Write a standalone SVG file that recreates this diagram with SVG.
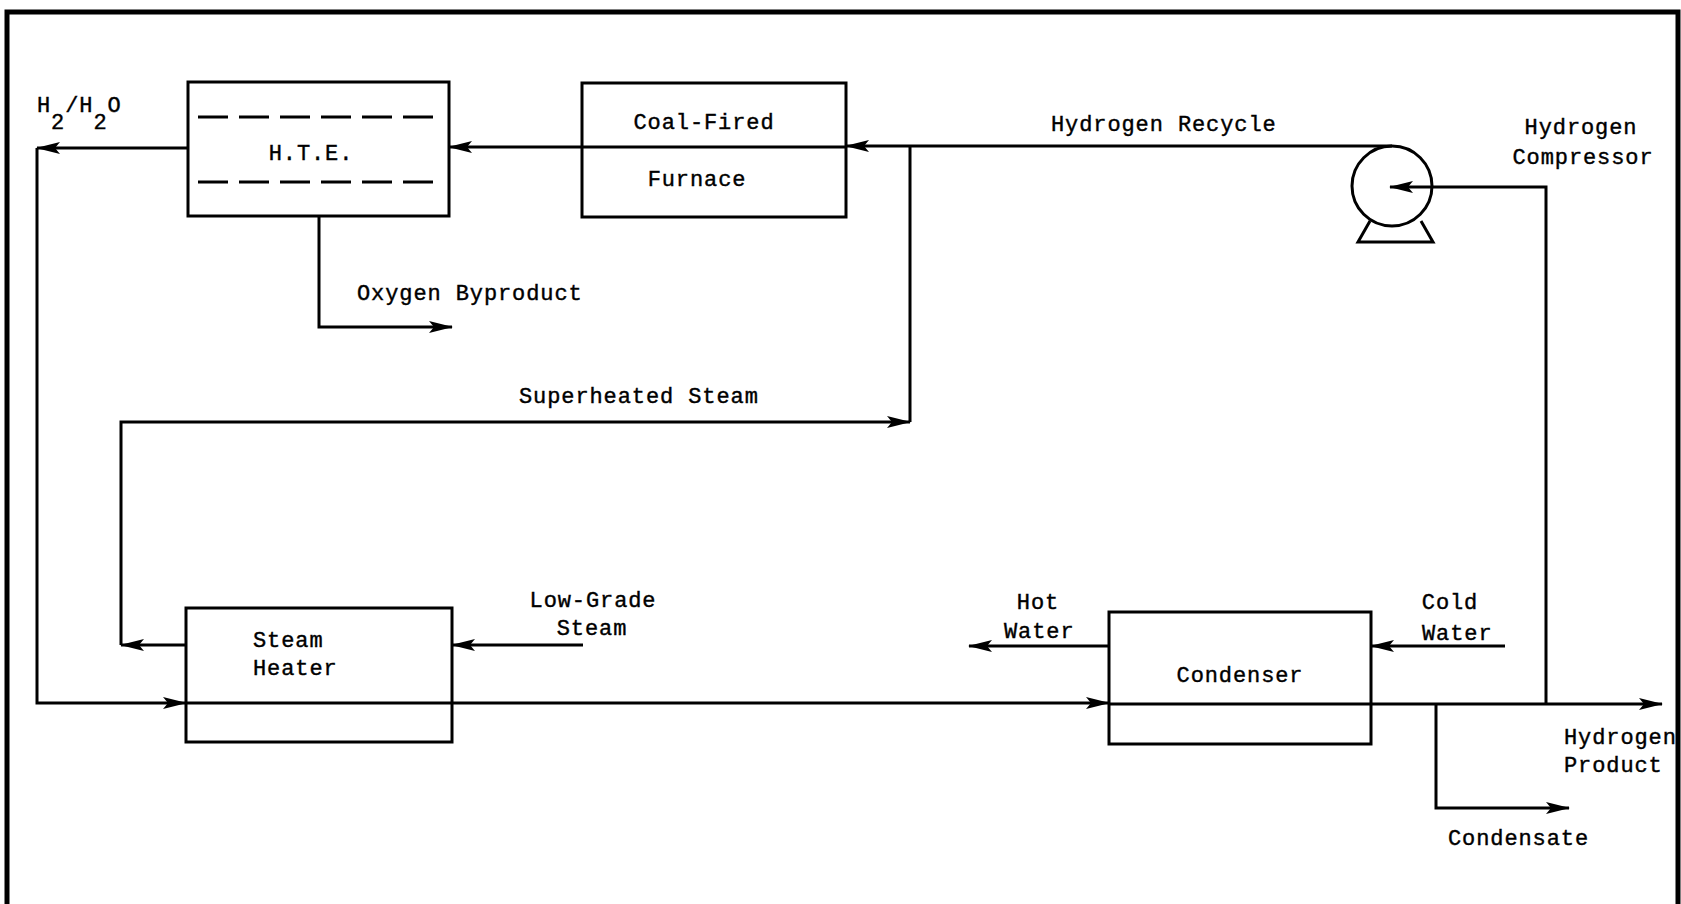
<svg xmlns="http://www.w3.org/2000/svg" width="1681" height="904" viewBox="0 0 1681 904">
<style>
.t{font-family:"Liberation Mono","Courier New",monospace;font-size:22px;letter-spacing:0.9px;fill:#000;stroke:#000;stroke-width:0.4px}
.m{text-anchor:middle}
.box{fill:none;stroke:#000;stroke-width:3}
.ln{fill:none;stroke:#000;stroke-width:3}
.ar{marker-end:url(#ah)}
.dash{stroke:#000;stroke-width:3;stroke-dasharray:30 11}
</style>
<defs>
<marker id="ah" markerUnits="userSpaceOnUse" viewBox="0 0 24 13" refX="23" refY="6.5" markerWidth="24" markerHeight="13" orient="auto">
<path d="M0,0.5 L24,6.5 L0,12.5 L5,6.5 z" fill="#000"/>
</marker>
</defs>
<rect width="1681" height="904" fill="#fff"/>
<g id="frame">
<path d="M7,904 V12 H1678 V904" fill="none" stroke="#000" stroke-width="5"/>
</g>
<g id="connectors">
<path class="ln ar" d="M188,148 H37"/>
<path class="ln ar" d="M37,148 V703 H186"/>
<path class="ln ar" d="M186,703 H1109"/>
<path class="ln ar" d="M1109,704 H1662"/>
<path class="ln ar" d="M1436,704 V808 H1569"/>
<path class="ln ar" d="M1546,704 V187 H1390"/>
<path class="ln ar" d="M1392,146 H846"/>
<path class="ln ar" d="M846,147 H449"/>
<path class="ln ar" d="M186,645 H121"/>
<path class="ln ar" d="M121,645 V422 H910"/>
<path class="ln" d="M910,422 V147"/>
<path class="ln ar" d="M319,216 V327 H452"/>
<path class="ln ar" d="M583,645 H452"/>
<path class="ln ar" d="M1109,646 H969"/>
<path class="ln ar" d="M1505,646 H1371"/>
</g>
<g id="hte">
<rect class="box" x="188" y="82" width="261" height="134"/>
<line class="dash" x1="198" y1="117" x2="441" y2="117"/>
<line class="dash" x1="198" y1="182" x2="441" y2="182"/>
<text class="t m" x="311" y="160">H.T.E.</text>
</g>
<g id="furnace">
<rect class="box" x="582" y="83" width="264" height="134"/>
<text class="t m" x="704" y="129">Coal-Fired</text>
<text class="t m" x="697" y="186">Furnace</text>
</g>
<g id="compressor">
<circle cx="1392" cy="186" r="40" fill="none" stroke="#000" stroke-width="3"/>
<polyline points="1370,221 1358,242 1433,242 1421,221" fill="none" stroke="#000" stroke-width="3"/>
<text class="t m" x="1581" y="134">Hydrogen</text>
<text class="t m" x="1583" y="164">Compressor</text>
</g>
<g id="steam-heater">
<rect class="box" x="186" y="608" width="266" height="134"/>
<text class="t" x="253" y="647">Steam</text>
<text class="t" x="253" y="675">Heater</text>
</g>
<g id="condenser">
<rect class="box" x="1109" y="612" width="262" height="132"/>
<text class="t m" x="1240" y="682">Condenser</text>
</g>
<g id="labels">
<text class="t" x="37" y="112">H<tspan dy="17">2</tspan><tspan dy="-17">/H</tspan><tspan dy="17">2</tspan><tspan dy="-17">O</tspan></text>
<text class="t" x="1051" y="131">Hydrogen Recycle</text>
<text class="t" x="357" y="300">Oxygen Byproduct</text>
<text class="t" x="519" y="403">Superheated Steam</text>
<text class="t m" x="593" y="607">Low-Grade</text>
<text class="t m" x="592" y="635">Steam</text>
<text class="t m" x="1038" y="609">Hot</text>
<text class="t" x="1004" y="638">Water</text>
<text class="t m" x="1450" y="609">Cold</text>
<text class="t" x="1422" y="640">Water</text>
<text class="t" x="1564" y="744">Hydrogen</text>
<text class="t" x="1564" y="772">Product</text>
<text class="t" x="1448" y="845">Condensate</text>
</g>
</svg>
